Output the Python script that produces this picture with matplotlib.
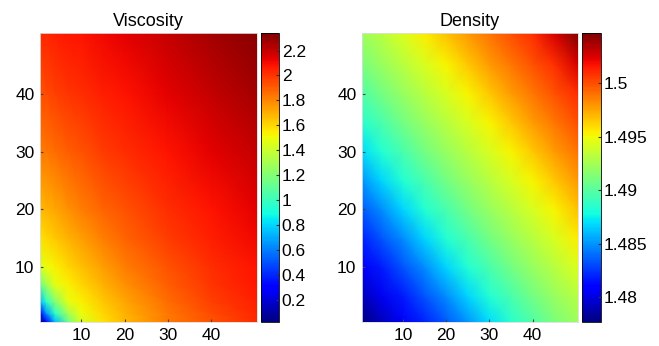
import matplotlib
matplotlib.use('Agg')
import matplotlib.pyplot as plt
import numpy as np

plt.rcParams['font.family'] = ['Liberation Sans', 'DejaVu Sans']

visc_nodes = [0.5, 2, 4, 7, 10, 15, 20, 30, 40, 50.5]
dens_nodes = [0.5, 5, 10, 15, 20, 25, 30, 35, 40, 45, 50.5]

# viscosity, rows = y nodes (bottom to top), cols = x nodes
viscosity = [
    [0.02, 0.30, 0.73, 1.14, 1.43, 1.57, 1.67, 1.83, 1.93, 2.03],
    [0.30, 0.65, 0.96, 1.29, 1.49, 1.60, 1.69, 1.84, 1.95, 2.04],
    [0.73, 0.96, 1.20, 1.47, 1.54, 1.64, 1.72, 1.86, 1.97, 2.05],
    [1.14, 1.29, 1.47, 1.54, 1.60, 1.69, 1.77, 1.90, 2.00, 2.07],
    [1.43, 1.49, 1.54, 1.60, 1.66, 1.74, 1.82, 1.93, 2.02, 2.08],
    [1.57, 1.60, 1.64, 1.69, 1.74, 1.82, 1.88, 1.98, 2.05, 2.11],
    [1.67, 1.69, 1.72, 1.77, 1.82, 1.88, 1.93, 2.02, 2.08, 2.14],
    [1.83, 1.84, 1.86, 1.90, 1.93, 1.98, 2.02, 2.08, 2.14, 2.20],
    [1.93, 1.95, 1.97, 2.00, 2.02, 2.05, 2.08, 2.14, 2.20, 2.26],
    [2.03, 2.04, 2.05, 2.07, 2.08, 2.11, 2.14, 2.20, 2.26, 2.32],
]

# density, rows = y nodes (bottom to top), cols = x nodes
density = [
    [1.4777, 1.4791, 1.4806, 1.4820, 1.4834, 1.4850, 1.4869, 1.4885, 1.4898, 1.4911, 1.4923],
    [1.4791, 1.4804, 1.4818, 1.4833, 1.4848, 1.4867, 1.4883, 1.4896, 1.4909, 1.4921, 1.4932],
    [1.4806, 1.4818, 1.4833, 1.4848, 1.4867, 1.4883, 1.4896, 1.4909, 1.4921, 1.4931, 1.4943],
    [1.4820, 1.4833, 1.4848, 1.4867, 1.4883, 1.4896, 1.4909, 1.4921, 1.4931, 1.4942, 1.4955],
    [1.4834, 1.4848, 1.4867, 1.4883, 1.4896, 1.4909, 1.4921, 1.4931, 1.4942, 1.4953, 1.4967],
    [1.4850, 1.4867, 1.4883, 1.4896, 1.4909, 1.4921, 1.4931, 1.4942, 1.4953, 1.4965, 1.4979],
    [1.4869, 1.4883, 1.4896, 1.4909, 1.4921, 1.4931, 1.4942, 1.4953, 1.4965, 1.4978, 1.4989],
    [1.4885, 1.4896, 1.4909, 1.4921, 1.4931, 1.4942, 1.4953, 1.4965, 1.4978, 1.4988, 1.5000],
    [1.4898, 1.4909, 1.4921, 1.4931, 1.4942, 1.4953, 1.4965, 1.4978, 1.4988, 1.4999, 1.5010],
    [1.4911, 1.4921, 1.4931, 1.4942, 1.4953, 1.4965, 1.4978, 1.4988, 1.4999, 1.5009, 1.5026],
    [1.4923, 1.4932, 1.4943, 1.4955, 1.4967, 1.4979, 1.4989, 1.5000, 1.5010, 1.5026, 1.5047],
]

visc_ticks = [0.2, 0.4, 0.6, 0.8, 1, 1.2, 1.4, 1.6, 1.8, 2, 2.2]
dens_ticks = [1.48, 1.485, 1.49, 1.495, 1.5]
axis_ticks = [10, 20, 30, 40]

fig = plt.figure(figsize=(6.59, 3.46), dpi=100)

panels = [
    ('Viscosity', visc_nodes, viscosity, (0.02, 2.34), visc_ticks,
     [0.0607, 0.0694, 0.329, 0.835], [0.396, 0.0694, 0.0273, 0.835]),
    ('Density', dens_nodes, density, (1.4777, 1.5047), dens_ticks,
     [0.5493, 0.0694, 0.3278, 0.835], [0.883, 0.0694, 0.0288, 0.835]),
]

for title, nodes, vals, (vmin, vmax), cticks, apos, cpos in panels:
    ax = fig.add_axes(apos)
    X, Y = np.meshgrid(nodes, nodes)
    mesh = ax.pcolormesh(X, Y, np.array(vals), shading='gouraud', cmap='jet',
                         vmin=vmin, vmax=vmax)
    ax.set_xlim(0.5, 50.5)
    ax.set_ylim(0.5, 50.5)
    ax.set_xticks(axis_ticks)
    ax.set_yticks(axis_ticks)
    ax.tick_params(direction='in', length=2, labelsize=12.5, pad=4, color='#444444')
    for sp in ax.spines.values():
        sp.set_color('#dddddd')
        sp.set_linewidth(0.6)
    ax.set_title(title, fontsize=13, pad=5)

    cax = fig.add_axes(cpos)
    cb = fig.colorbar(mesh, cax=cax, ticks=cticks)
    cb.ax.tick_params(direction='in', length=2, labelsize=12.5, pad=2, color='#333333')
    cb.ax.set_yticklabels([f'{t:g}' for t in cticks])
    cb.outline.set_linewidth(0.6)

fig.savefig('out.png', dpi=100)
